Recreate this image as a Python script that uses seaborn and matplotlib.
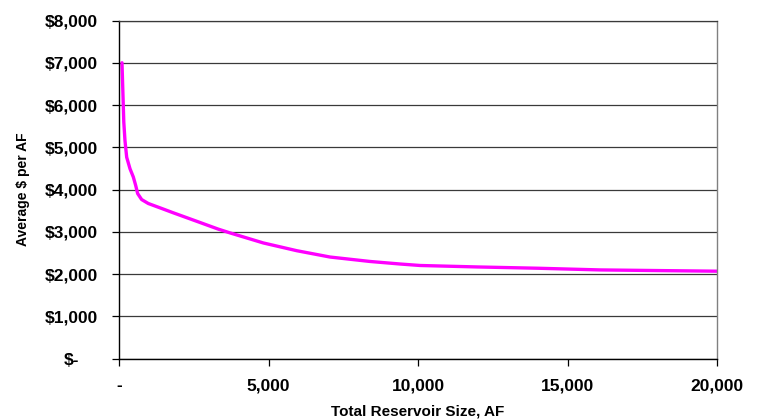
import matplotlib
matplotlib.use("Agg")
import matplotlib.pyplot as plt
import matplotlib.transforms as mtransforms
import pandas as pd
import seaborn as sns

# Reservoir size (acre-feet) and average cost per acre-foot
reservoir_size_af = [100, 130, 160, 200, 257, 368, 480, 557, 624, 757, 980,
                     1427, 1816, 2710, 3320, 3712, 4827, 5943, 7057, 8395,
                     9400, 10070, 12000, 14000, 16090, 18000, 20000]
avg_cost_per_af = [7000, 6300, 5600, 5157, 4765, 4493, 4296, 4101, 3906, 3765, 3671,
                   3554, 3451, 3222, 3065, 2976, 2738, 2555, 2405, 2300,
                   2240, 2205, 2170, 2140, 2100, 2085, 2070]

x_ticks = [0, 5000, 10000, 15000, 20000]
x_tick_labels = ["-", "5,000", "10,000", "15,000", "20,000"]
y_ticks = [0, 1000, 2000, 3000, 4000, 5000, 6000, 7000, 8000]
y_tick_labels = ["$-", "$1,000", "$2,000", "$3,000", "$4,000", "$5,000",
                 "$6,000", "$7,000", "$8,000"]

df = pd.DataFrame({"size": reservoir_size_af, "cost": avg_cost_per_af})

sns.set_theme(style="white")
plt.rcParams["font.family"] = ["Liberation Sans", "DejaVu Sans"]

fig = plt.figure(figsize=(7.6, 4.2), dpi=100)
ax = fig.add_axes([119 / 760, 1 - 358.7 / 420, (717 - 119) / 760, (358.7 - 20.5) / 420])

ax.set_axisbelow(True)
ax.yaxis.grid(True, color="#3a3a3a", linewidth=0.9)
ax.xaxis.grid(False)

sns.lineplot(data=df, x="size", y="cost", ax=ax, color="#FF00FF",
             linewidth=2.4, sort=True, estimator=None,
             solid_joinstyle="round", solid_capstyle="round")

ax.set_xlim(0, 20000)
ax.set_ylim(0, 8000)
ax.set_xticks(x_ticks, x_tick_labels)
ax.set_yticks(y_ticks, y_tick_labels)

for lab in ax.get_xticklabels() + ax.get_yticklabels():
    lab.set_fontweight("bold")
    lab.set_fontsize(12.5)
    lab.set_color("black")

ax.tick_params(axis="both", which="major", direction="out", length=5,
               width=0.9, color="black", bottom=True, left=True)
ax.tick_params(axis="y", pad=10)
ax.tick_params(axis="x", pad=9)

# accounting-style zero label sits left of the other amounts
zero_tick = ax.yaxis.get_major_ticks()[0]
zero_tick.label1.set_transform(
    zero_tick.label1.get_transform()
    + mtransforms.ScaledTranslation(-19 / 100, 0, fig.dpi_scale_trans))

ax.set_xlabel("Total Reservoir Size, AF", fontsize=11, fontweight="bold",
              color="black", labelpad=8)
ax.set_ylabel("Average $ per AF", fontsize=10, fontweight="bold",
              color="black", labelpad=11)

for side in ["left", "bottom"]:
    ax.spines[side].set_visible(True)
    ax.spines[side].set_color("black")
    ax.spines[side].set_linewidth(1.0)
ax.spines["right"].set_visible(True)
ax.spines["right"].set_color("#808080")
ax.spines["right"].set_linewidth(1.0)
ax.spines["top"].set_visible(True)
ax.spines["top"].set_color("#3a3a3a")
ax.spines["top"].set_linewidth(0.9)

fig.savefig("out.png", dpi=100, facecolor="white")
